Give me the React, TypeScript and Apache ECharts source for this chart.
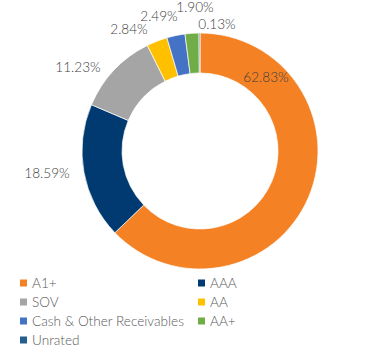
import React, { useEffect, useRef } from "react";
import * as echarts from "echarts";

const categories = ["A1+", "AAA", "SOV", "AA", "Cash & Other Receivables", "AA+", "Unrated"];
const values = [62.83, 18.59, 11.23, 2.84, 2.49, 1.9, 0.13];
const colors = ["#F48224", "#003A70", "#A5A5A5", "#FFC000", "#4472C4", "#70AD47", "#255E91"];
const leftLegend = ["A1+", "SOV", "Cash & Other Receivables", "Unrated"];
const rightLegend = ["AAA", "AA", "AA+"];

// label anchor points (pixels) per slice
const labelPos: [number, number][] = [
  [266, 77],
  [47, 173],
  [78, 67],
  [129, 29],
  [159, 16],
  [195, 7],
  [217, 24],
];

export default function App() {
  const ref = useRef<HTMLDivElement>(null);
  useEffect(() => {
    if (!ref.current) return;
    const chart = echarts.init(ref.current, null, { renderer: "svg" });
    const legendCommon = {
      orient: "vertical" as const,
      top: 276,
      itemWidth: 9,
      itemHeight: 9,
      itemGap: 5,
      icon: "rect",
      textStyle: { fontFamily: "Lato", fontWeight: 300, fontSize: 13.6, color: "#595959", lineHeight: 13.5, padding: [0, 0, 0, -1] },
      padding: 0,
    };
    chart.setOption({
      animation: false,
      color: colors,
      legend: [
        { ...legendCommon, left: 18, data: leftLegend },
        { ...legendCommon, left: 196, data: rightLegend },
      ],
      series: [
        {
          type: "pie",
          center: [200, 151],
          radius: [78, 118],
          startAngle: 90,
          clockwise: true,
          avoidLabelOverlap: false,
          itemStyle: { borderColor: "#fff", borderWidth: 0.7 },
          label: {
            show: true,
            position: "outside",
            formatter: (p: any) => p.value.toFixed(2) + "%",
            fontFamily: "Lato",
            fontWeight: 300,
            fontSize: 13.6,
            color: "#404040",
          },
          labelLine: { show: false },
          labelLayout: (params: any) => {
            const p = labelPos[params.dataIndex];
            return { x: p[0], y: p[1], align: "center", verticalAlign: "middle" };
          },
          data: categories.map((c, i) => ({ name: c, value: values[i] })),
        },
      ],
    });
    return () => chart.dispose();
  }, []);
  return <div ref={ref} style={{ position: "fixed", left: 0, top: 0, width: 370, height: 351, background: "#fff" }} />;
}
